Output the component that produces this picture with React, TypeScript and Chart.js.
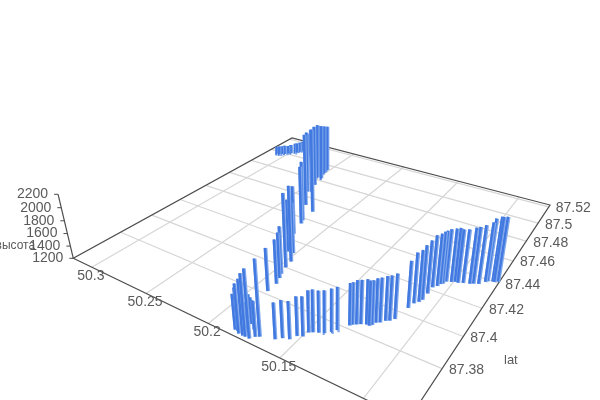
import React, { useEffect, useRef } from "react";
import { Chart, registerables } from "chart.js";
Chart.register(...registerables);

// lon = 50 + value/1000, lat = 87 + value/1000, altitude in metres (track order)
const lonThousandths = [308.4,305.6,303.7,301.8,300,298.1,296.3,294.4,293.5,292.5,291.6,281.4,273.9,265.6,255.3,247,250.7,251.6,250.7,245.1,221.9,240.5,243.3,232.1,220.9,219.1,
215.4,201.4,196.8,205.1,195.8,194,192.1,190.2,190.2,168.8,170.7,172.6,175.4,177.2,180,181.9,183.7,177.2,184.7,175,179,183,160.5,157.7,154,152.1,149.3,148.4,146.5,
143.7,140.9,138.2,136.3,132.6,131.6,129.8,127.9,125.1,123.3,122.3,121.4,119.6,117.7,115.8,114,112.1,111.2,109.3,108.4,108.4,108.4,106.5,105.6,104.7,103.7,
100.9,99.1,97.2,94.4,90.7,88.9,86.1,83.3,82.4,79.6,78.6,76.8];
const latThousandths = [497,497,498,499,501,502,505,505,507,509,511,506,501,496,489,483,490,494,483,474,448,466,465,452,438,435,
425,411,405,411,400,395,392,388,382,358,357,355,355,355,355,356,356,358,357,360,362,364,360,362,363,366,367,370,371,
372,373,375,377,382,383,384,385,386,386,387,389,390,392,393,395,404,408,410,412,417,422,424,426,427,429,
430,431,431,432,433,434,435,438,439,440,440,441];
const altitudes = [1337,1357,1357,1371,1351,1372,1372,1387,1387,1387,1373,1628,1798,1924,2077,2172,2081,2032,2174,2260,2582,2311,2260,2410,2185,2152,
1986,2003,2365,2027,2334,1932,1899,1875,1850,2272,1709,2167,2083,1996,1908,1820,1715,1616,1594,1620,1590,1560,1723,1741,1741,1765,1770,1802,1811,
1801,1808,1819,1819,1810,1811,1838,1838,1852,1847,1842,1839,1846,1847,1851,1857,1891,1946,1963,2003,1990,1984,1990,1992,1998,1995,
2009,2015,2008,2012,2046,2055,2084,2096,2144,2173,2177,2177];
const lonTicks = [50.3, 50.25, 50.2, 50.15, 50.1];
const latTicks = [87.38, 87.4, 87.42, 87.44, 87.46, 87.48, 87.5, 87.52];
const altTicks = [1200, 1400, 1600, 1800, 2000, 2200];

const lonMin = 50.0763, lonMax = 50.3186, latMin = 87.353, latMax = 87.5225, altMin = 1200, altMax = 2200;
const [x0, y0, x1, y1, x2, y2, x3, y3] = [408.2, 420, 73.3, 258.3, 292, 138, 550, 205];
const vanishX = 331, vanishY = 1343;
const dx1 = x1 - x2, dx2 = x3 - x2, sx = x0 - x1 + x2 - x3, dy1 = y1 - y2, dy2 = y3 - y2, sy = y0 - y1 + y2 - y3;
const den = dx1 * dy2 - dx2 * dy1;
const g = (sx * dy2 - dx2 * sy) / den, h = (dx1 * sy - sx * dy1) / den;
const a = x1 - x0 + g * x1, b = x3 - x0 + h * x3, d = y1 - y0 + g * y1, e = y3 - y0 + h * y3;
const zc = (-64 * (g + 1)) / (vanishY - 194.3);

function project(lon: number, lat: number, alt: number) {
  const u = (lon - lonMin) / (lonMax - lonMin), v = (lat - latMin) / (latMax - latMin), w = (alt - altMin) / (altMax - altMin);
  const W = g * u + h * v + 1 + zc * w;
  return { x: (a * u + b * v + x0 + zc * vanishX * w) / W, y: (d * u + e * v + y0 + zc * vanishY * w) / W };
}

const GRID = "#d6d6d6", AXIS = "#4d4d4d", TEXT = "#5a5a5a";
const line = (data: any[], color: string, width: number) => ({
  data, borderColor: color, borderWidth: width, pointRadius: 0, showLine: true, fill: false, tension: 0, borderCapStyle: "butt" as const,
});

function makeDatasets() {
  const ds: any[] = [];
  lonTicks.forEach((t) => ds.push(line([project(t, latMin, altMin), project(t, latMax, altMin)], GRID, 1.2)));
  latTicks.forEach((t) => ds.push(line([project(lonMin, t, altMin), project(lonMax, t, altMin)], GRID, 1.2)));
  ds.push(line([project(lonMin, latMin, altMin), project(lonMax, latMin, altMin), project(lonMax, latMax, altMin), project(lonMin, latMax, altMin), project(lonMin, latMin, altMin)], AXIS, 1.2));
  ds.push(line([project(lonMax, latMin, altMin), project(lonMax, latMin, altMax)], AXIS, 1.2));
  altTicks.forEach((t) => {
    const p = project(lonMax, latMin, t);
    ds.push(line([p, { x: p.x - 4, y: p.y }], AXIS, 1));
  });
  const order = lonThousandths.map((_, i) => i).sort((p, q) => project(50 + lonThousandths[p] / 1000, 87 + latThousandths[p] / 1000, altMin).y - project(50 + lonThousandths[q] / 1000, 87 + latThousandths[q] / 1000, altMin).y);
  order.forEach((i) => {
    const lon = 50 + lonThousandths[i] / 1000, lat = 87 + latThousandths[i] / 1000;
    ds.push(line([project(lon, lat, altMin), project(lon, lat, altitudes[i])], "#7ea7ec", 3.8));
    ds.push(line([project(lon + 0.0004, lat, altMin), project(lon + 0.0004, lat, altitudes[i])], "#4279e0", 2.5));
  });
  // Chart.js paints the first dataset last, so reverse to paint grid first and nearest bars on top
  return ds.reverse();
}

const labelPlugin = {
  id: "axisLabels",
  afterDatasetsDraw(chart: any) {
    const ctx = chart.ctx;
    ctx.save();
    ctx.fillStyle = TEXT;
    ctx.textBaseline = "middle";
    ctx.font = "14px 'Liberation Sans', Arial, sans-serif";
    ctx.textAlign = "center";
    lonTicks.forEach((t) => {
      const p = project(t, latMin, altMin);
      ctx.fillText(String(t), p.x - 1, p.y + 9);
    });
    ctx.textAlign = "left";
    latTicks.forEach((t) => {
      const p = project(lonMin, t, altMin);
      ctx.fillText(String(t), p.x + 7, p.y + 1.5);
    });
    ctx.textAlign = "right";
    altTicks.forEach((t) => {
      const p = project(lonMax, latMin, t);
      ctx.fillText(String(t), p.x - 10, p.y);
    });
    ctx.font = "12px 'Liberation Sans', Arial, sans-serif";
    ctx.textAlign = "left";
    ctx.fillText("высота", -4.5, 246);
    ctx.font = "13px 'Liberation Sans', Arial, sans-serif";
    ctx.fillText("lat", 504, 360);
    ctx.restore();
  },
};

export default function App() {
  const ref = useRef<HTMLCanvasElement>(null);
  useEffect(() => {
    const chart = new Chart(ref.current!, {
      type: "scatter",
      data: { datasets: makeDatasets() },
      options: {
        responsive: false,
        animation: false,
        layout: { padding: 0 },
        plugins: { legend: { display: false }, tooltip: { enabled: false } },
        scales: {
          x: { type: "linear", display: false, min: 0, max: 600 },
          y: { type: "linear", display: false, min: 0, max: 400, reverse: true },
        },
      },
      plugins: [labelPlugin],
    });
    return () => chart.destroy();
  }, []);
  return <canvas ref={ref} width={600} height={400} style={{ position: "absolute", left: 0, top: 0, display: "block" }} />;
}
